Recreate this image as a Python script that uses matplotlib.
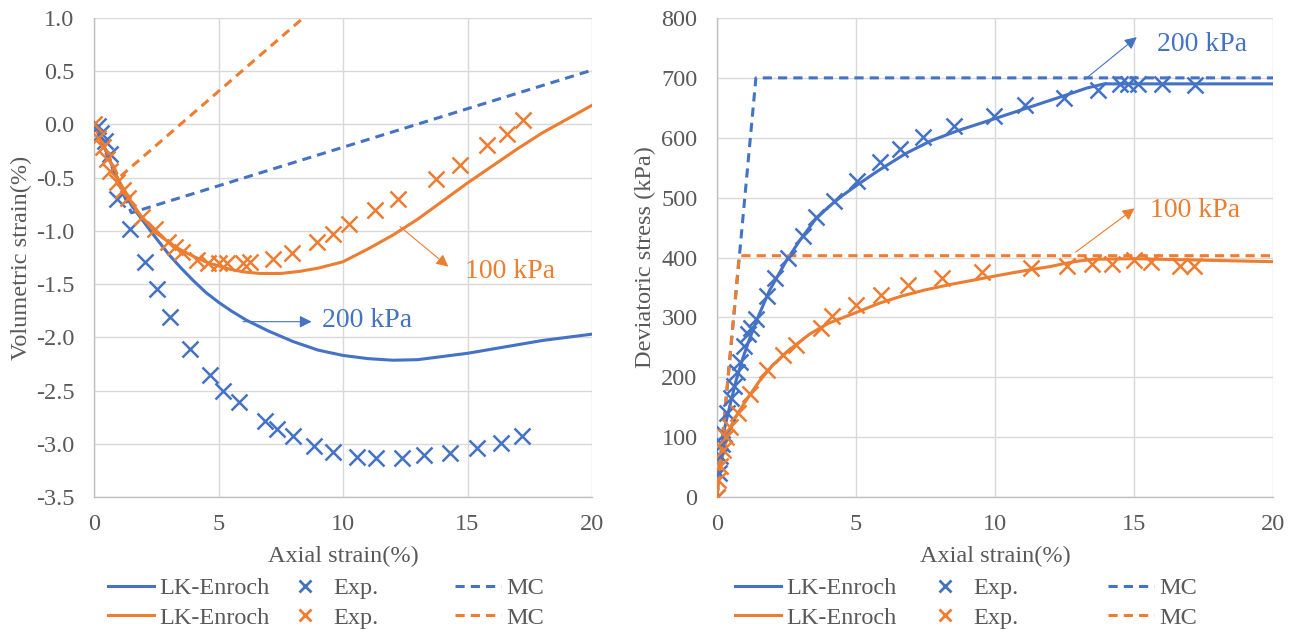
import numpy as np
import matplotlib
matplotlib.use("Agg")
import matplotlib.pyplot as plt
from matplotlib.lines import Line2D

plt.rcParams['font.family'] = ['Liberation Serif', 'DejaVu Serif']
plt.rcParams['axes.unicode_minus'] = False

BLUE = '#4472C4'
ORANGE = '#ED7D31'
TXT = '#595959'
GRID = '#D9D9D9'

# ---- left: volumetric strain vs axial strain ----
lk200_vol_x = [0, 0.25, 0.5, 0.75, 1.0, 1.5, 2.11, 2.5, 3.0, 3.5, 4.0, 4.5, 5.0, 5.5, 6.13, 7.0, 8.0, 9.0, 10.0, 11.0, 12.0, 13.0, 14.0, 15.0, 16.0, 17.0, 18.0, 19.0, 20.0]
lk200_vol_y = [0, -0.12, -0.26, -0.40, -0.54, -0.76, -0.95, -1.07, -1.22, -1.35, -1.47, -1.58, -1.67, -1.75, -1.84, -1.94, -2.04, -2.12, -2.17, -2.20, -2.215, -2.21, -2.18, -2.15, -2.11, -2.07, -2.03, -2.00, -1.97]
lk100_vol_x = [0, 0.25, 0.5, 0.75, 1.0, 1.5, 1.92, 2.5, 3.25, 4.0, 4.58, 5.46, 6.0, 6.67, 7.5, 8.27, 9.0, 10.0, 11.0, 12.0, 13.0, 14.0, 15.0, 16.0, 17.0, 18.0, 19.0, 20.0]
lk100_vol_y = [0, -0.12, -0.26, -0.40, -0.53, -0.73, -0.87, -1.02, -1.15, -1.24, -1.30, -1.36, -1.385, -1.40, -1.40, -1.38, -1.35, -1.29, -1.17, -1.04, -0.89, -0.72, -0.55, -0.39, -0.23, -0.08, 0.05, 0.18]
exp200_vol_x = [0.17, 0.3, 0.44, 0.64, 0.91, 1.45, 2.05, 2.53, 3.05, 3.86, 4.66, 5.19, 5.84, 6.87, 7.34, 7.98, 8.85, 9.61, 10.55, 11.33, 12.36, 13.27, 14.30, 15.37, 16.33, 17.18]
exp200_vol_y = [-0.01, -0.08, -0.16, -0.28, -0.70, -0.98, -1.29, -1.55, -1.81, -2.11, -2.35, -2.50, -2.61, -2.79, -2.86, -2.93, -3.02, -3.08, -3.12, -3.13, -3.13, -3.11, -3.09, -3.04, -2.99, -2.93]
exp100_vol_x = [0, 0.17, 0.37, 0.51, 0.64, 0.91, 1.18, 1.38, 1.91, 2.45, 2.98, 3.25, 3.52, 4.12, 4.59, 5.0, 5.33, 6.0, 6.27, 7.2, 7.94, 8.94, 9.61, 10.25, 11.29, 12.22, 13.73, 14.70, 15.80, 16.57, 17.24]
exp100_vol_y = [0, -0.13, -0.21, -0.32, -0.44, -0.54, -0.62, -0.69, -0.87, -0.98, -1.10, -1.15, -1.20, -1.27, -1.30, -1.30, -1.30, -1.30, -1.29, -1.26, -1.21, -1.10, -1.03, -0.935, -0.80, -0.70, -0.515, -0.38, -0.19, -0.09, 0.04]
mc200_vol_x = [0, 1.5, 20.0]
mc200_vol_y = [0, -0.83, 0.51]
mc100_vol_x = [0, 1.0, 8.4]
mc100_vol_y = [0, -0.5, 1.0]

# ---- right: deviatoric stress vs axial strain ----
lk200_q_x = [0, 0.1, 0.25, 0.45, 0.69, 0.93, 1.17, 1.47, 1.89, 2.5, 3.0, 3.53, 4.0, 4.5, 5.07, 5.8, 6.8, 7.7, 8.67, 10.0, 11.3, 12.67, 13.3, 13.93, 16.0, 20.0]
lk200_q_y = [0, 60, 110, 150, 195, 232, 264, 300, 345, 395, 430, 463, 484, 503, 522, 545, 574, 595, 612, 632, 652, 673, 683, 690, 690, 690]
lk100_q_x = [0, 0.1, 0.25, 0.5, 0.75, 1.0, 1.5, 2.0, 2.5, 3.33, 4.0, 5.0, 5.8, 6.67, 7.5, 8.4, 9.2, 10.0, 10.7, 11.33, 12.0, 12.5, 13.0, 13.5, 15.0, 17.0, 20.0]
lk100_q_y = [0, 45, 80, 118, 140, 158, 192, 220, 242, 272, 290, 308, 323, 336, 346, 355, 362, 369, 375, 380, 385, 390, 394, 397, 398, 396, 393]
exp200_q_x = [0.0, 0.06, 0.12, 0.17, 0.24, 0.37, 0.5, 0.61, 0.72, 0.83, 0.98, 1.12, 1.24, 1.40, 1.80, 2.10, 2.56, 3.08, 3.57, 4.2, 5.04, 5.87, 6.6, 7.4, 8.53, 9.96, 11.07, 12.47, 13.71, 14.49, 14.8, 15.13, 16.0, 17.2]
exp200_q_y = [0, 40, 68, 88, 105, 140, 165, 185, 208, 225, 252, 272, 282, 298, 336, 366, 400, 436, 467, 494, 528, 560, 582, 601, 620, 637, 654, 666, 679, 689, 689, 690, 690, 688]
exp100_q_x = [0, 0.03, 0.09, 0.21, 0.33, 0.45, 0.75, 1.17, 1.8, 2.37, 2.83, 3.73, 4.13, 5.0, 5.91, 6.87, 8.09, 9.53, 11.31, 12.6, 13.49, 14.2, 15.0, 15.6, 16.67, 17.17]
exp100_q_y = [0, 28, 51, 78, 100, 117, 140, 172, 212, 237, 254, 283, 302, 320, 337, 354, 365, 375, 382, 386, 389, 389, 396, 392, 386, 386]
mc200_q_x = [0, 1.4, 20.0]
mc200_q_y = [0, 700, 700]
mc100_q_x = [0, 0.8, 20.0]
mc100_q_y = [0, 403, 403]

W, H = 1299, 632
fig = plt.figure(figsize=(W / 100, H / 100), dpi=100)
ax1 = fig.add_axes([94 / W, 1 - 497 / H, (592 - 94) / W, (497 - 18) / H])
ax2 = fig.add_axes([717 / W, 1 - 497 / H, (1273 - 717) / W, (497 - 18) / H])

lw = 2.2
ms = 11
mew = 1.8
dash = (0, (3, 2))


def draw(ax, lk, exp, mc):
    for (x, y), c in zip(lk, [BLUE, ORANGE]):
        ax.plot(x, y, color=c, lw=lw, zorder=3, solid_joinstyle='round')
    for (x, y), c in zip(exp, [BLUE, ORANGE]):
        ax.plot(x, y, ls='none', marker='x', ms=ms, mew=mew, color=c, zorder=4)
    for (x, y), c in zip(mc, [BLUE, ORANGE]):
        ax.plot(x, y, color=c, lw=lw, ls=dash, zorder=3)
    ax.set_xlim(0, 20)
    ax.set_xticks(range(0, 21, 5))
    ax.grid(True, color=GRID, lw=1)
    ax.set_axisbelow(True)
    for s in ['top', 'right']:
        ax.spines[s].set_visible(False)
    for s in ['left', 'bottom']:
        ax.spines[s].set_color('#BFBFBF')
        ax.spines[s].set_linewidth(1)
    ax.tick_params(length=0, labelsize=17.5, labelcolor=TXT)
    ax.tick_params(axis='y', pad=14)
    ax.tick_params(axis='x', pad=12)
    ax.set_xlabel('Axial strain(%)', fontsize=17.5, color=TXT)
    ax.xaxis.set_label_coords(0.5, -0.102)


draw(ax1,
     [(lk200_vol_x, lk200_vol_y), (lk100_vol_x, lk100_vol_y)],
     [(exp200_vol_x, exp200_vol_y), (exp100_vol_x, exp100_vol_y)],
     [(mc200_vol_x, mc200_vol_y), (mc100_vol_x, mc100_vol_y)])
ax1.set_ylim(-3.5, 1.0)
yt = np.arange(-3.5, 1.01, 0.5)
ax1.set_yticks(yt)
ax1.set_yticklabels(['{:.1f}'.format(v) for v in yt])
ax1.set_ylabel('Volumetric strain(%)', fontsize=17.5, color=TXT)
ax1.yaxis.set_label_coords(-0.125, 0.5)

draw(ax2,
     [(lk200_q_x, lk200_q_y), (lk100_q_x, lk100_q_y)],
     [(exp200_q_x, exp200_q_y), (exp100_q_x, exp100_q_y)],
     [(mc200_q_x, mc200_q_y), (mc100_q_x, mc100_q_y)])
ax2.set_ylim(0, 800)
ax2.set_yticks(range(0, 801, 100))
ax2.set_ylabel('Deviatoric stress (kPa)', fontsize=17.5, color=TXT)
ax2.yaxis.set_label_coords(-0.11, 0.5)

# pressure annotations
arr = dict(arrowstyle='-|>', lw=0.8, mutation_scale=18, shrinkA=0, shrinkB=0)
ax1.annotate('', xy=(8.74, -1.853), xytext=(5.98, -1.853), arrowprops=dict(arr, color=BLUE))
ax1.text(9.16, -1.90, '200 kPa', color=BLUE, fontsize=20, va='baseline')
ax1.annotate('', xy=(14.23, -1.336), xytext=(12.29, -0.96), arrowprops=dict(arr, color=ORANGE))
ax1.text(14.9, -1.445, '100 kPa', color=ORANGE, fontsize=20, va='baseline')
ax2.annotate('', xy=(15.1, 768), xytext=(13.22, 697), arrowprops=dict(arr, color=BLUE))
ax2.text(15.84, 745, '200 kPa', color=BLUE, fontsize=20, va='baseline')
ax2.annotate('', xy=(15.02, 482), xytext=(12.9, 409), arrowprops=dict(arr, color=ORANGE))
ax2.text(15.56, 467, '100 kPa', color=ORANGE, fontsize=20, va='baseline')

# legends: three columns of two rows under each plot
cols = [
    ([Line2D([], [], color=BLUE, lw=lw), Line2D([], [], color=ORANGE, lw=lw)], ['LK-Enroch', 'LK-Enroch']),
    ([Line2D([], [], ls='none', marker='x', ms=9, mew=2, color=BLUE),
      Line2D([], [], ls='none', marker='x', ms=9, mew=2, color=ORANGE)], ['Exp.', 'Exp.']),
    ([Line2D([], [], color=BLUE, lw=lw, ls=dash), Line2D([], [], color=ORANGE, lw=lw, ls=dash)], ['MC', 'MC']),
]
for xs in ([108, 282, 455], [735, 922, 1108]):
    for (hs, ls), x0 in zip(cols, xs):
        fig.legend(hs, ls, loc='center left', bbox_to_anchor=(x0 / W, 1 - 603 / H),
                   frameon=False, fontsize=17.5, labelcolor=TXT, borderpad=0,
                   borderaxespad=0, handlelength=1.9, handletextpad=0.2,
                   labelspacing=0.3)

fig.savefig('out.png', dpi=100)
